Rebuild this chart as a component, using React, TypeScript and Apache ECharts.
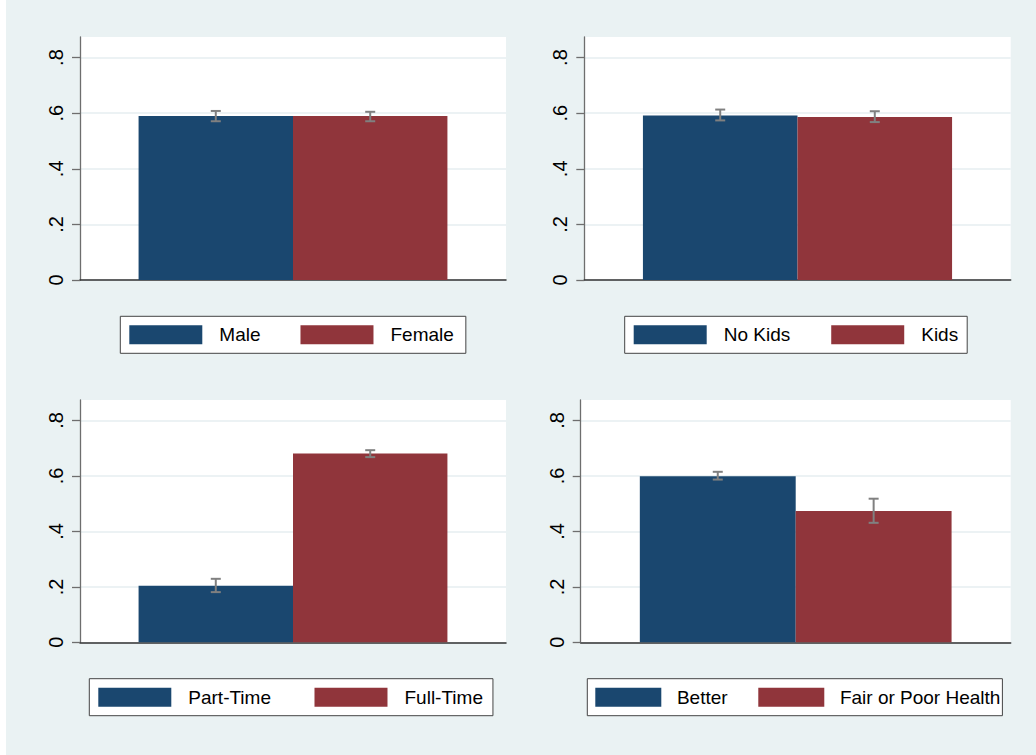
import React, { useEffect, useRef } from 'react';
import * as echarts from 'echarts';

// ---- Data ----
const yTickValues = [0, 0.2, 0.4, 0.6, 0.8];
const yTickLabels = ['0', '.2', '.4', '.6', '.8'];
const yMax = 0.874;

const genderLabels = ['Male', 'Female'];
const genderMeans = [0.59, 0.59];
const genderLower = [0.571, 0.571];
const genderUpper = [0.608, 0.605];

const kidsLabels = ['No Kids', 'Kids'];
const kidsMeans = [0.592, 0.586];
const kidsLower = [0.574, 0.568];
const kidsUpper = [0.613, 0.607];

const workLabels = ['Part-Time', 'Full-Time'];
const workMeans = [0.204, 0.681];
const workLower = [0.181, 0.668];
const workUpper = [0.229, 0.693];

const healthLabels = ['Better', 'Fair or Poor Health'];
const healthMeans = [0.599, 0.474];
const healthLower = [0.587, 0.431];
const healthUpper = [0.615, 0.518];

const panels = [
  { labels: genderLabels, means: genderMeans, lower: genderLower, upper: genderUpper },
  { labels: kidsLabels, means: kidsMeans, lower: kidsLower, upper: kidsUpper },
  { labels: workLabels, means: workMeans, lower: workLower, upper: workUpper },
  { labels: healthLabels, means: healthMeans, lower: healthLower, upper: healthUpper },
];

// ---- Styles / layout ----
const NAVY = '#1A476F';
const MAROON = '#90353B';
const BG = '#EAF2F3';
const ERR = '#808080';
const FONT = '"Liberation Sans", Arial, sans-serif';
const CAT_GAP = 0.275;

const gridLayouts = [
  { left: 74, top: 37, width: 426, height: 243 },
  { left: 578.3, top: 37, width: 426.4, height: 243 },
  { left: 74, top: 400, width: 426, height: 242.3 },
  { left: 574.7, top: 400, width: 430, height: 242.3 },
];

const legendLayouts = [
  { left: 114.3, top: 316.3, itemWidth: 73, itemGap: 40, textPad: 12, padding: [9, 12, 9, 9] },
  { left: 618.7, top: 316.3, itemWidth: 73, itemGap: 41, textPad: 12, padding: [9, 9, 9, 9] },
  { left: 83.3, top: 678.7, itemWidth: 73, itemGap: 43.5, textPad: 12, padding: [9, 10, 9, 9] },
  { left: 581.3, top: 678.7, itemWidth: 66, itemGap: 30.7, textPad: 10.6, padding: [9, 2, 9, 8] },
];

export default function App() {
  const ref = useRef<HTMLDivElement>(null);

  useEffect(() => {
    if (!ref.current) return;
    const chart = echarts.init(ref.current, null, { renderer: 'svg' });

    const grid = gridLayouts.map((g) => ({
      ...g,
      show: true,
      backgroundColor: '#FFFFFF',
      borderWidth: 0,
      containLabel: false,
    }));

    const xAxis = panels.map((_, i) => ({
      type: 'category',
      gridIndex: i,
      data: [''],
      axisLine: { show: true, lineStyle: { color: '#333333', width: 1.5 } },
      axisTick: { show: false },
      axisLabel: { show: false },
      splitLine: { show: false },
    }));

    const yAxis = panels.map((_, i) => ({
      type: 'value',
      gridIndex: i,
      min: 0,
      max: yMax,
      interval: 0.2,
      axisLine: { show: true, lineStyle: { color: '#6E6E6E', width: 1.3 } },
      axisTick: {
        show: true,
        length: 8,
        lineStyle: { color: '#6E6E6E', width: 1.3 },
        customValues: yTickValues,
      },
      axisLabel: {
        show: true,
        rotate: 90,
        fontSize: 20,
        color: '#000000',
        fontFamily: FONT,
        margin: 14,
        customValues: yTickValues,
        formatter: (v: number) => {
          const idx = yTickValues.findIndex((t) => Math.abs(t - v) < 1e-6);
          return idx >= 0 ? yTickLabels[idx] : '';
        },
      },
      splitLine: { show: true, lineStyle: { color: '#E6EEF1', width: 1.5 } },
    }));

    const series: any[] = [];
    panels.forEach((p, i) => {
      p.labels.forEach((name, j) => {
        series.push({
          type: 'bar',
          name,
          xAxisIndex: i,
          yAxisIndex: i,
          data: [p.means[j]],
          barGap: '0%',
          barCategoryGap: `${CAT_GAP * 100}%`,
          itemStyle: { color: j === 0 ? NAVY : MAROON },
          emphasis: { disabled: true },
        });
      });
      series.push({
        type: 'custom',
        xAxisIndex: i,
        yAxisIndex: i,
        z: 5,
        clip: false,
        data: p.labels.map((_, j) => [0, p.lower[j], p.upper[j], j]),
        renderItem: (params: any, api: any) => {
          const x0 = api.value(0);
          const lo = api.value(1);
          const hi = api.value(2);
          const j = api.value(3);
          const pLo = api.coord([x0, lo]);
          const pHi = api.coord([x0, hi]);
          const band = api.size([1, 0])[0];
          const total = band * (1 - CAT_GAP);
          const x = pLo[0] + (j === 0 ? -1 : 1) * (total / 4);
          const half = 5;
          const style = { stroke: ERR, lineWidth: 2 };
          return {
            type: 'group',
            children: [
              { type: 'line', shape: { x1: x, y1: pHi[1], x2: x, y2: pLo[1] }, style },
              { type: 'line', shape: { x1: x - half, y1: pHi[1], x2: x + half, y2: pHi[1] }, style },
              { type: 'line', shape: { x1: x - half, y1: pLo[1], x2: x + half, y2: pLo[1] }, style },
            ],
          };
        },
      });
    });

    const legend = panels.map((p, i) => {
      const l = legendLayouts[i];
      return {
        data: p.labels,
        left: l.left,
        top: l.top,
        orient: 'horizontal',
        icon: 'rect',
        itemWidth: l.itemWidth,
        itemHeight: 19,
        itemGap: l.itemGap,
        padding: l.padding,
        borderColor: '#444444',
        borderWidth: 1,
        backgroundColor: '#FFFFFF',
        selectedMode: false,
        textStyle: {
          fontSize: 19,
          color: '#000000',
          fontFamily: FONT,
          lineHeight: 19,
          padding: [0, 0, 0, l.textPad],
        },
      };
    });

    chart.setOption({
      animation: false,
      backgroundColor: BG,
      textStyle: { fontFamily: FONT },
      grid,
      xAxis,
      yAxis,
      legend,
      series,
    });

    return () => chart.dispose();
  }, []);

  return (
    <div style={{ position: 'fixed', left: 0, top: 0, width: 1036, height: 755, background: '#FFFFFF' }}>
      <div ref={ref} style={{ position: 'absolute', left: 6, top: 0, width: 1030, height: 755 }} />
    </div>
  );
}
